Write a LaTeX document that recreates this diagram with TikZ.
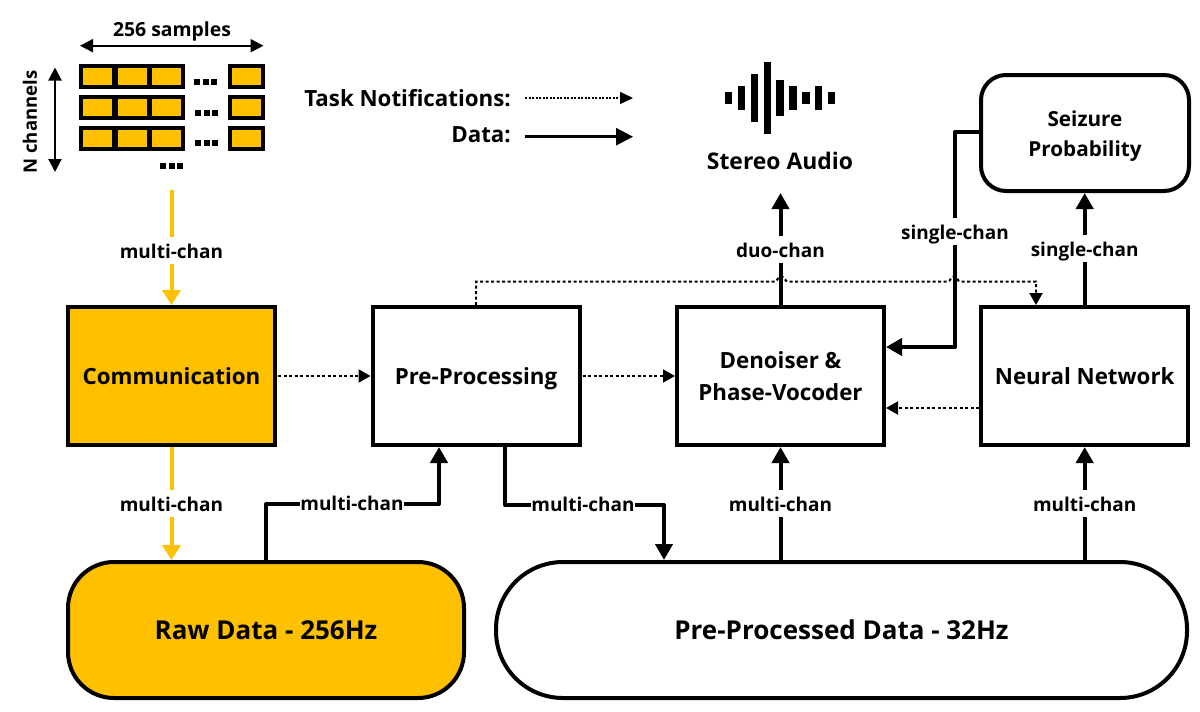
\documentclass[tikz,border=0pt]{standalone}
\usepackage{fontspec}
\setmainfont{Open Sans}
\usetikzlibrary{arrows.meta,calc}
\definecolor{amber}{HTML}{FFC000}
\tikzset{
  x=1pt,y=-1pt,
  box/.style={draw=black,line width=4pt,minimum width=207pt,minimum height=138pt,align=center,inner sep=0pt,font=\fontsize{22.3}{32.5}\selectfont\bfseries},
  oneline/.style={text height=21pt,text depth=5pt},
  txt/.style={inner sep=0pt,align=center,font=\fontsize{22.3}{28}\selectfont\bfseries},
  chan/.style={inner xsep=0pt,inner ysep=0pt,fill=white,text height=22pt,text depth=5pt,font=\fontsize{19}{24}\selectfont\bfseries},
  data/.style={line width=4pt,-{Triangle[length=16pt,width=17pt]},line join=round},
  amberline/.style={draw=amber,line width=4pt,-{Triangle[length=15pt,width=18pt]}},
  note/.style={line width=2pt,dash pattern=on 3pt off 2.5pt,-{Triangle[length=12pt,width=13pt]}},
  cell/.style={draw=black,fill=amber,line width=4pt,minimum width=33pt,minimum height=21pt,inner sep=0pt},
  bar/.style={fill=black,draw=none,minimum width=7.5pt,inner sep=0pt},
  dots/.style={fill=black,draw=none,minimum size=6pt,inner sep=0pt},
  dbl/.style={line width=2pt,{Triangle[length=13pt,width=13pt]}-{Triangle[length=13pt,width=13pt]}},
}
\begin{document}
\begin{tikzpicture}
\useasboundingbox (0,0) rectangle (1200,712);
% main boxes
\node[box,fill=amber] (comm) at (171.5,376) {Communication};
\node[box,oneline] (pre) at (476,376) {Pre-Processing};
\node[box] (den) at (780.5,376) {Denoiser \&\\Phase-Vocoder};
\node[box] (nn) at (1084.7,376) {Neural Network};
\node[box,fill=amber,rounded corners=46pt,minimum width=396pt,minimum height=136pt,font=\fontsize{26}{32}\selectfont\bfseries] (raw) at (266,630) {Raw Data - 256Hz};
\node[box,rounded corners=67pt,minimum width=691pt,minimum height=136pt,font=\fontsize{26}{32}\selectfont\bfseries] (ppd) at (841.5,630) {Pre-Processed Data - 32Hz};
\node[box,rounded corners=25pt,minimum width=208pt,minimum height=116pt,font=\fontsize{20.7}{30}\selectfont\bfseries] (sz) at (1085,133) {\rule{0pt}{21pt}Seizure\\Probability};
% sample grid
\foreach \r/\y in {a/76.6,b/107.7,c/138.6}{
  \foreach \i/\x in {1/97.5,2/132,3/166.3,4/246}{
    \node[cell] (\r\i) at (\x,\y) {};
  }
}
\foreach \y/\xo [count=\n] in {82/0,113/1,143/1}{
  \foreach \k in {0,1,2}{
    \node[dots] (dot\n\k) at ({197+\xo+\k*8.5},\y) {};
  }
}
\foreach \k in {0,1,2}{\node[dots] (dotb\k) at ({163+\k*8.5},166) {};}
\node[txt,font=\fontsize{19.4}{24}\selectfont\bfseries] (samples) at (172,31) {256 samples};
\coordinate (sL) at (80,45.7); \coordinate (sR) at (263.5,45.7);
\draw[dbl] (sL) -- (sR);
\coordinate (cT) at (55,67.5); \coordinate (cB) at (55,172);
\draw[dbl] (cT) -- (cB);
\node[txt,rotate=90,font=\fontsize{18.5}{24}\selectfont\bfseries] (nchan) at (30,122) {N channels};
% legend
\node[txt,anchor=east] (ltask) at (511,98) {Task Notifications:};
\node[txt,anchor=east] (ldata) at (511,135) {Data:};
\coordinate (t1) at (525,98); \coordinate (t2) at (633,98);
\draw[line width=1.5pt,dash pattern=on 2pt off 1.5pt,-{Triangle[length=13pt,width=12pt]}] (t1) -- (t2);
\coordinate (d1) at (525,136.7); \coordinate (d2) at (633,136.7);
\draw[line width=3pt,-{Triangle[length=17pt,width=17pt]}] (d1) -- (d2);
% audio icon
\foreach \x/\h [count=\n] in {728.7/12,741.7/24,754.7/48,767.3/72,780/36,793/24,806/12,818.7/24,831.7/12}{
  \node[bar,minimum height=\h pt] (bar\n) at (\x,97.7) {};
}
\node[txt,font=\fontsize{22.9}{28}\selectfont\bfseries] (audio) at (780,161) {Stereo Audio};
% amber connectors
\coordinate (grid) at (171.5,190);
\draw[amberline] (grid) -- (comm.north);
\node[chan] (l1) at (171.5,250) {multi-chan};
\draw[amberline] (comm.south) -- (comm.south |- raw.north);
\node[chan] (l2) at (171.5,503) {multi-chan};
% task notifications
\draw[note] (comm.east) ++(1,0) -- (pre.west);
\draw[note] (pre.east) ++(1,0) -- (den.west);
\draw[note] (nn.west |- 0,408) -- (den.east |- 0,408);
% data connectors
\coordinate (r1) at (266,562);
\draw[data] (r1) -- (266,504) -- (439,504) -- (439,0 |- pre.south);
\node[chan] (l3) at (352,502) {multi-chan};
\coordinate (p1) at (505,445);
\coordinate (p2) at (664,560);
\draw[data] (p1) -- (505,505) -- (664,505) -- (p2);
\node[chan] (l4) at (583,503) {multi-chan};
\draw[data] (den.south |- 0,562) -- (den.south);
\node[chan] (l5) at (780.5,503) {multi-chan};
\draw[data] (nn.south |- 0,562) -- (nn.south);
\node[chan] (l6) at (1084.7,503) {multi-chan};
\coordinate (au) at (780.5,193);
\draw[data] (den.north) -- (au);
\node[chan] (l7) at (780.5,249) {duo-chan};
\draw[data] (nn.north) -- (nn.north |- sz.south);
\node[chan] (l8) at (1084.7,248) {single-chan};
% seizure probability back to denoiser
\draw[data] (sz.west |- 0,132) -- (955,132) -- (955,347) -- (den.east |- 0,347);
\node[chan] (l9) at (955,231) {single-chan};
% notification from pre-processing to neural network
\draw[note] (pre.north) -- (476,281.5) -- (775,281.5)
  .. controls (777,281.5) and (778,276.5) .. (781,276.5)
  .. controls (784,276.5) and (785,281.5) .. (788,281.5)
  -- (948,281.5)
  .. controls (950,281.5) and (951,276.5) .. (954,276.5)
  .. controls (957,276.5) and (958,281.5) .. (960,281.5)
  -- (1036,281.5) -- (1036,0 |- nn.north);
\end{tikzpicture}
\end{document}
